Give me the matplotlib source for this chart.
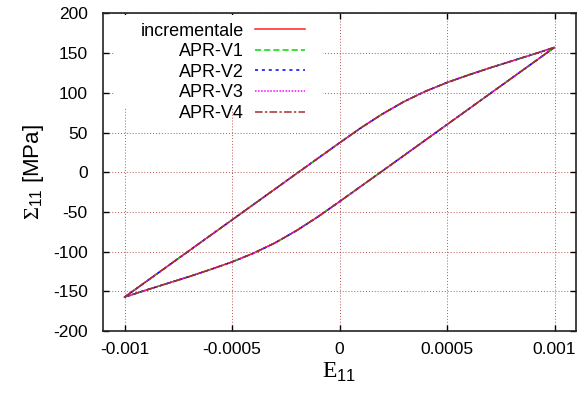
import matplotlib
matplotlib.use('Agg')
import matplotlib.pyplot as plt
from matplotlib.patches import Rectangle

plt.rcParams['font.family'] = ['Liberation Sans', 'DejaVu Sans']
plt.rcParams['mathtext.fontset'] = 'custom'
plt.rcParams['mathtext.rm'] = 'Liberation Serif'
plt.rcParams['mathtext.sf'] = 'Liberation Sans'
plt.rcParams['axes.unicode_minus'] = False

# loading branch (strain going up) and unloading branch (strain going down)
strain_up = [-0.001, -0.0008, -0.0006, -0.0004, -0.0002, 0.0, 0.0001, 0.0002,
             0.0003, 0.0004, 0.0005, 0.0006, 0.0007, 0.0008, 0.0009, 0.001]
stress_up = [-157.3, -118.4, -79.5, -40.6, -1.7, 37.0, 56.0, 73.5,
             89.0, 102.0, 113.0, 122.5, 131.5, 140.0, 148.5, 157.3]
strain_down = [0.001, 0.0008, 0.0006, 0.0004, 0.0002, 0.0, -0.0001, -0.0002,
               -0.0003, -0.0004, -0.0005, -0.0006, -0.0007, -0.0008, -0.0009, -0.001]
stress_down = [157.3, 118.4, 79.5, 40.6, 1.7, -37.0, -56.0, -73.5,
               -89.0, -102.0, -113.0, -122.5, -131.5, -140.0, -148.5, -157.3]

labels = ['incrementale', 'APR-V1', 'APR-V2', 'APR-V3', 'APR-V4']
colors = ['#ff2020', '#00dd00', '#0000ff', '#ff00ff', '#a03030']
styles = ['-', (0, (4, 2)), (0, (2, 2.5)), (0, (1, 1)), (0, (5, 1.5, 1.5, 1.5))]

xticks = [-0.001, -0.0005, 0, 0.0005, 0.001]
xticklabels = ['-0.001', '-0.0005', '0', '0.0005', '0.001']
yticks = [-200, -150, -100, -50, 0, 50, 100, 150, 200]

fig = plt.figure(figsize=(5.84, 3.99), dpi=100)
ax = fig.add_axes([0.1764, 0.1704, 0.8099, 0.7958])

for lab, c, ls in zip(labels, colors, styles):
    ax.plot(strain_up + strain_down, stress_up + stress_down,
            color=c, linestyle=ls, linewidth=1.1, label=lab)

ax.set_xlim(-0.0011, 0.0011)
ax.set_ylim(-200, 200)
ax.set_xticks(xticks)
ax.set_xticklabels(xticklabels)
ax.set_yticks(yticks)
ax.tick_params(direction='in', length=4, width=1, top=True, right=True,
               labelsize=12.5)
ax.tick_params(axis='y', pad=11)
ax.tick_params(axis='x', pad=8)
ax.grid(True, color='#a52a2a', linestyle=(0, (1, 2)), linewidth=0.7, alpha=0.8)
for s in ax.spines.values():
    s.set_linewidth(1.2)
    s.set_color('#222222')

ax.set_xlabel(r'$\mathrm{E}_{\mathsf{11}}$', fontsize=17, labelpad=3)
ax.set_ylabel(r'$\Sigma_{\mathsf{11}}$ [MPa]', fontsize=16, labelpad=5)

# white key box like gnuplot's opaque key
ax.add_patch(Rectangle((0.025, 0.705), 0.44, 0.29, transform=ax.transAxes,
                       facecolor='white', edgecolor='none', zorder=2.5))
leg = ax.legend(loc='upper left', bbox_to_anchor=(0.06, 1.0), frameon=False,
                markerfirst=False, fontsize=13, handlelength=2.75,
                handletextpad=0.65, labelspacing=0.2, borderaxespad=0.1)
leg.set_zorder(3)

fig.savefig('out.png', dpi=100)
